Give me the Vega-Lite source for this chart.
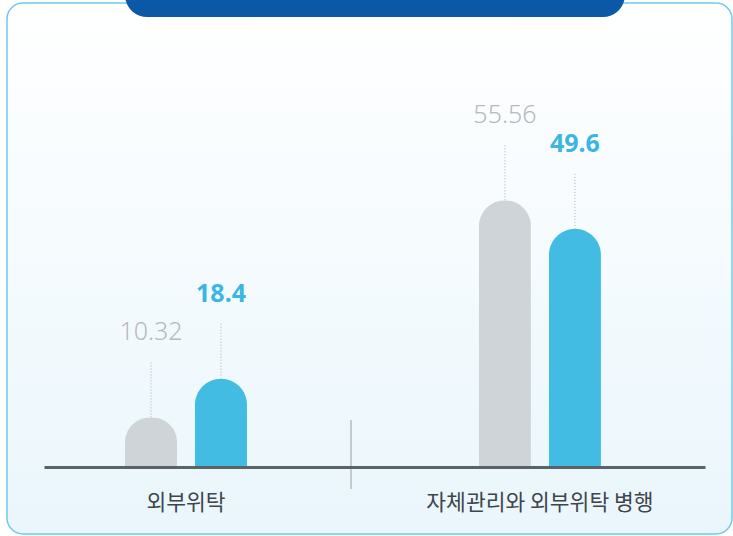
{
  "$schema": "https://vega.github.io/schema/vega-lite/v6.json",
  "width": 725,
  "height": 531,
  "padding": {"left": 7, "top": 3, "right": 1, "bottom": 2},
  "autosize": {"type": "none"},
  "background": "#ffffff",
  "config": {
    "view": {
      "cornerRadius": 16,
      "stroke": "#6ccbed",
      "strokeWidth": 1.5,
      "fill": {"gradient": "linear", "x1": 0, "y1": 0, "x2": 0, "y2": 1, "stops": [{"offset": 0, "color": "#ffffff"}, {"offset": 1, "color": "#eaf6fc"}]}
    },
    "font": "Noto Sans CJK KR"
  },
  "data": {
    "values": [
      {"group": "외부위탁", "series": "기존", "value": 10.32},
      {"group": "외부위탁", "series": "현재", "value": 18.4},
      {"group": "자체관리와 외부위탁 병행", "series": "기존", "value": 55.56},
      {"group": "자체관리와 외부위탁 병행", "series": "현재", "value": 49.6}
    ]
  },
  "encoding": {
    "x": {
      "field": "group",
      "type": "nominal",
      "sort": null,
      "scale": {"range": [37, 698], "paddingInner": 0.6045, "paddingOuter": 0.236, "align": 0.431},
      "axis": {
        "title": null,
        "labelAngle": 0,
        "offset": -67,
        "domainColor": "#5a6467",
        "domainWidth": 3,
        "ticks": false,
        "tickSize": 0,
        "labelPadding": 25,
        "labelFontSize": 21.5,
        "labelLimit": 0,
        "labelColor": "#3d464b",
        "labelFont": "Noto Sans CJK KR",
        "zindex": 1
      }
    }
  },
  "layer": [
    {
      "mark": {"type": "bar", "width": 52, "cornerRadiusTopLeft": 26, "cornerRadiusTopRight": 26},
      "encoding": {
        "xOffset": {"field": "series", "type": "nominal", "scale": {"paddingInner": 0, "paddingOuter": 0}},
        "y": {"field": "value", "type": "quantitative", "scale": {"domain": [0, 80], "range": [464, 80]}, "axis": null},
        "color": {"field": "series", "type": "nominal", "scale": {"domain": ["기존", "현재"], "range": ["#cfd4d8", "#42bce3"]}, "legend": null}
      }
    },
    {
      "mark": {"type": "rule", "color": "#a9adb0", "strokeDash": [1, 2], "strokeWidth": 1, "y2Offset": -57},
      "encoding": {
        "xOffset": {"field": "series", "type": "nominal"},
        "y": {"field": "value", "type": "quantitative"},
        "y2": {"field": "value"}
      }
    },
    {
      "transform": [{"filter": "datum.series === '기존'"}],
      "mark": {"type": "text", "dy": -85, "fontSize": 25, "font": "Noto Sans", "fontWeight": 300, "color": "#b5babe", "baseline": "middle"},
      "encoding": {
        "xOffset": {"field": "series", "type": "nominal"},
        "y": {"field": "value", "type": "quantitative"},
        "text": {"field": "value", "type": "nominal"}
      }
    },
    {
      "transform": [{"filter": "datum.series === '현재'"}],
      "mark": {"type": "text", "dy": -85, "fontSize": 25, "font": "Noto Sans", "fontWeight": "bold", "color": "#3bb6e2", "baseline": "middle"},
      "encoding": {
        "xOffset": {"field": "series", "type": "nominal"},
        "y": {"field": "value", "type": "quantitative"},
        "text": {"field": "value", "type": "nominal"}
      }
    },
    {
      "data": {"values": [{}]},
      "mark": {"type": "rule", "color": "#c5cacd", "strokeWidth": 2, "xOffset": 165, "yOffset": -47, "y2Offset": 22},
      "encoding": {
        "x": {"datum": "외부위탁", "type": "nominal"},
        "y": {"datum": 0, "type": "quantitative"},
        "y2": {"datum": 0}
      }
    },
    {
      "data": {"values": [{}]},
      "mark": {"type": "rect", "color": "#0b58a7", "cornerRadius": 22, "xOffset": 9, "x2Offset": 15, "yOffset": -66, "y2Offset": -120},
      "encoding": {
        "x": {"datum": "외부위탁", "type": "nominal", "bandPosition": 0},
        "x2": {"datum": "자체관리와 외부위탁 병행", "bandPosition": 1},
        "y": {"datum": 80, "type": "quantitative"},
        "y2": {"datum": 80}
      }
    }
  ]
}
